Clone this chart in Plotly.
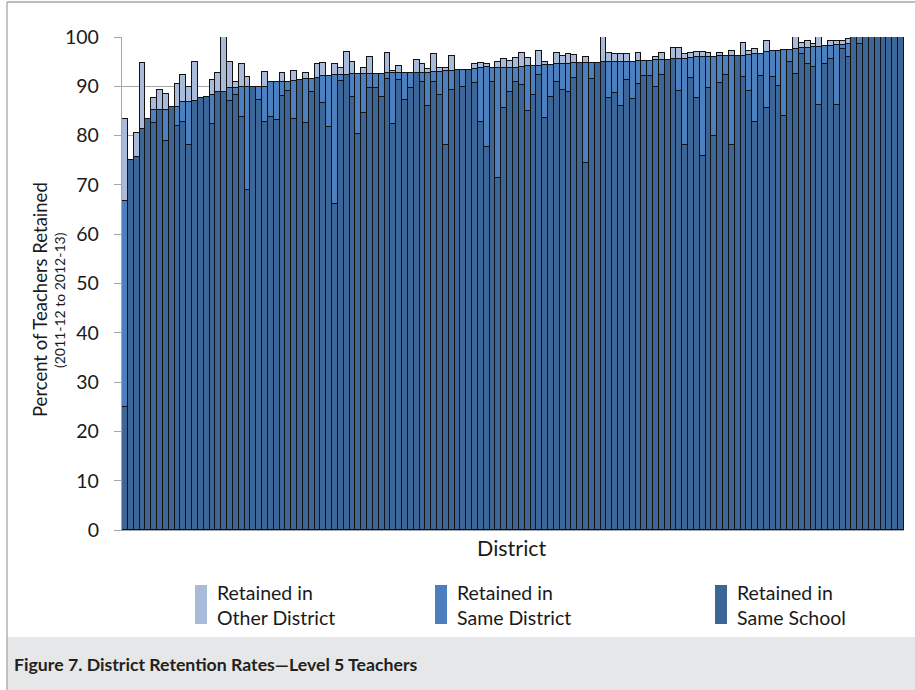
import plotly.graph_objects as go

# ---------------- data ----------------
same_school = [
    25.0, 75.0, 75.7, 81.3, 83.4, 82.5, 85.2, 79.0, 85.9, 82.0,
    82.8, 78.0, 87.0, 87.6, 87.9, 82.3, 88.9, 88.9, 87.0, 88.3,
    83.8, 69.0, 89.8, 87.2, 82.8, 83.8, 83.2, 88.0, 89.1, 83.3,
    91.3, 82.5, 88.8, 91.6, 86.7, 81.7, 66.1, 91.0, 92.3, 87.8,
    80.3, 84.5, 89.6, 89.6, 87.9, 91.4, 82.3, 91.3, 87.2, 89.6,
    92.8, 90.9, 86.0, 90.9, 88.2, 78.0, 89.2, 93.3, 89.9, 93.4,
    90.7, 82.8, 77.6, 90.9, 71.4, 85.7, 88.9, 90.9, 90.3, 85.0,
    88.2, 92.2, 83.6, 87.9, 90.9, 89.2, 88.9, 91.6, 94.7, 74.4,
    91.5, 94.8, 94.9, 87.7, 88.6, 86.0, 91.3, 87.5, 90.4, 92.0,
    92.0, 89.8, 92.2, 95.3, 95.5, 89.0, 78.0, 91.6, 87.6, 75.9,
    89.6, 80.0, 90.6, 92.3, 78.0, 96.2, 91.8, 89.1, 82.7, 92.1,
    85.7, 91.8, 90.1, 84.0, 94.9, 92.4, 96.5, 94.5, 93.9, 86.2,
    94.5, 95.5, 86.2, 97.6, 96.0, 100.0, 98.5, 100.0, 100.0, 100.0,
    100.0, 100.0, 100.0, 100.0,
]
same_district = [
    41.7, 0.0, 0.0, 0.0, 0.0, 2.7, 0.0, 6.2, 0.0, 3.9,
    4.1, 8.9, 0.0, 0.0, 0.0, 5.9, 0.0, 0.0, 2.6, 1.3,
    6.0, 20.8, 0.0, 2.6, 7.1, 7.0, 7.7, 2.9, 1.8, 7.8,
    0.0, 9.0, 2.7, 0.0, 5.4, 10.4, 26.2, 1.3, 0.0, 4.6,
    12.1, 7.9, 2.8, 2.8, 4.6, 1.2, 10.3, 1.5, 5.6, 3.2,
    0.0, 1.9, 6.8, 2.1, 4.8, 15.1, 4.0, 0.0, 3.5, 0.0,
    2.9, 11.0, 16.3, 2.9, 22.4, 8.1, 4.9, 2.9, 3.7, 9.1,
    6.0, 2.0, 10.7, 6.4, 3.6, 5.3, 5.6, 3.1, 0.0, 20.3,
    3.3, 0.0, 0.0, 7.2, 6.3, 9.0, 3.7, 7.5, 4.7, 3.2,
    3.2, 5.5, 3.1, 0.0, 0.0, 6.5, 17.5, 4.1, 8.4, 20.1,
    6.4, 16.0, 5.5, 3.8, 18.2, 0.0, 4.4, 7.2, 13.8, 4.4,
    11.2, 5.4, 7.1, 13.4, 2.5, 5.2, 1.2, 3.3, 4.1, 11.8,
    3.7, 2.7, 12.2, 0.8, 2.5, 0.0, 1.5, 0.0, 0.0, 0.0,
    0.0, 0.0, 0.0, 0.0,
]
other_district = [
    16.6, 0.0, 4.8, 13.4, 0.0, 2.4, 4.1, 3.2, 0.0, 4.6,
    5.3, 2.9, 7.9, 0.0, 0.0, 3.1, 3.9, 11.1, 5.3, 1.2,
    4.7, 2.1, 0.0, 0.0, 3.1, 0.0, 0.0, 1.7, 0.0, 2.1,
    0.0, 1.3, 0.0, 2.9, 2.6, 0.0, 2.2, 1.5, 4.7, 2.5,
    0.0, 1.4, 3.6, 0.0, 0.0, 4.2, 0.5, 1.3, 0.0, 0.0,
    2.5, 1.7, 0.7, 3.5, 0.8, 0.6, 2.9, 0.0, 0.0, 0.0,
    0.9, 0.9, 0.6, 0.0, 1.2, 1.7, 1.3, 2.0, 2.8, 1.6,
    0.0, 3.0, 0.7, 0.0, 2.2, 1.6, 2.0, 1.6, 0.0, 1.3,
    0.0, 0.0, 5.1, 1.9, 1.6, 1.5, 1.6, 0.0, 1.7, 0.0,
    0.0, 0.7, 1.5, 0.0, 2.3, 2.3, 1.1, 1.0, 0.9, 0.9,
    0.7, 0.0, 0.6, 0.0, 1.0, 0.0, 2.6, 0.9, 1.0, 0.0,
    2.2, 0.0, 0.0, 0.0, 0.0, 2.4, 1.0, 1.4, 0.5, 2.0,
    0.0, 1.0, 0.8, 0.8, 1.0, 0.0, 0.0, 0.0, 0.0, 0.0,
    0.0, 0.0, 0.0, 0.0,
]
districts = list(range(1, len(same_school) + 1))
y_ticks = [0, 10, 20, 30, 40, 50, 60, 70, 80, 90, 100]

series_names = ["Retained in Same School", "Retained in Same District", "Retained in Other District"]
legend_labels = ["Retained in<br>Other District", "Retained in<br>Same District", "Retained in<br>Same School"]

# ---------------- style ----------------
C_DARK = "#3d6698"
C_MED = "#4b7fbd"
C_LIGHT = "#a9bbd9"
FONT = "Lato, Carlito, Calibri, sans-serif"
TXT = "#1a1a1a"

W, H = 915, 690
L, R, T, B = 122, 11, 37, 160
PW, PH = W - L - R, H - T - B


def px(x):
    return (x - L) / PW


def py(y):
    return (H - B - y) / PH


fig = go.Figure()
for vals, name, col in zip([same_school, same_district, other_district], series_names,
                           [C_DARK, C_MED, C_LIGHT]):
    fig.add_trace(go.Bar(
        x=districts, y=vals, name=name, showlegend=False,
        marker=dict(color=col, line=dict(color="#121212", width=1.5)),
    ))

shapes = []
shapes.append(dict(type="line", xref="paper", yref="paper", x0=px(7), x1=px(916), y0=py(2), y1=py(2),
                   line=dict(color="#a6a6a6", width=1.3)))
shapes.append(dict(type="rect", xref="paper", yref="paper", x0=px(7), x1=px(916), y0=py(637), y1=py(691),
                   fillcolor="#e6e7e8", line=dict(width=0), layer="below"))
shapes.append(dict(type="line", xref="paper", yref="paper", x0=px(7), x1=px(7), y0=py(2), y1=py(691),
                   line=dict(color="#a6a6a6", width=1.3)))

annotations = []
leg_x = [195, 435, 715]
leg_cols = [C_LIGHT, C_MED, C_DARK]
for lx, lc, lt in zip(leg_x, leg_cols, legend_labels):
    shapes.append(dict(type="rect", xref="paper", yref="paper", x0=px(lx), x1=px(lx + 12),
                       y0=py(624), y1=py(585), fillcolor=lc, line=dict(width=0)))
    annotations.append(dict(xref="paper", yref="paper", x=px(lx + 20), y=py(605), text=lt,
                            showarrow=False, xanchor="left", yanchor="middle", align="left",
                            font=dict(family=FONT, size=19.5, color=TXT)))

annotations.append(dict(xref="paper", yref="paper", x=px(512), y=py(548), text="District",
                        showarrow=False, xanchor="center", yanchor="middle",
                        font=dict(family=FONT, size=21.5, color=TXT)))
annotations.append(dict(xref="paper", yref="paper", x=px(40), y=py(300), text="Percent of Teachers Retained",
                        showarrow=False, xanchor="center", yanchor="middle", textangle=-90,
                        font=dict(family=FONT, size=18.5, color=TXT)))
annotations.append(dict(xref="paper", yref="paper", x=px(59), y=py(300), text="(2011-12 to 2012-13)",
                        showarrow=False, xanchor="center", yanchor="middle", textangle=-90,
                        font=dict(family=FONT, size=14, color=TXT)))
annotations.append(dict(xref="paper", yref="paper", x=px(12), y=py(664),
                        text="<b>Figure 7. District Retention Rates\u2014Level 5 Teachers</b>",
                        showarrow=False, xanchor="left", yanchor="middle",
                        font=dict(family=FONT, size=17.7, color="#231f20")))

fig.update_layout(
    width=W, height=H,
    margin=dict(l=L, r=R, t=T, b=B, pad=0),
    paper_bgcolor="white", plot_bgcolor="white",
    barmode="stack", bargap=0,
    shapes=shapes, annotations=annotations,
    xaxis=dict(range=[0.5, len(districts) + 0.5], showticklabels=False, ticks="",
               showgrid=False, zeroline=False, showline=True, linecolor="#a6a6a6", linewidth=1.3),
    yaxis=dict(range=[0, 100], tickvals=y_ticks, ticks="outside", ticklen=7, tickcolor="#a6a6a6",
               tickwidth=1.3, showline=True, linecolor="#a6a6a6", linewidth=1.3,
               showgrid=True, gridcolor="#a6a6a6", gridwidth=1.3, zeroline=False,
               ticklabelstandoff=11,
               tickfont=dict(family=FONT, size=19.5, color=TXT)),
)

fig.write_html("out.html", config={"displayModeBar": False},
               post_script="document.body.style.margin='0';document.body.style.overflow='hidden';")
